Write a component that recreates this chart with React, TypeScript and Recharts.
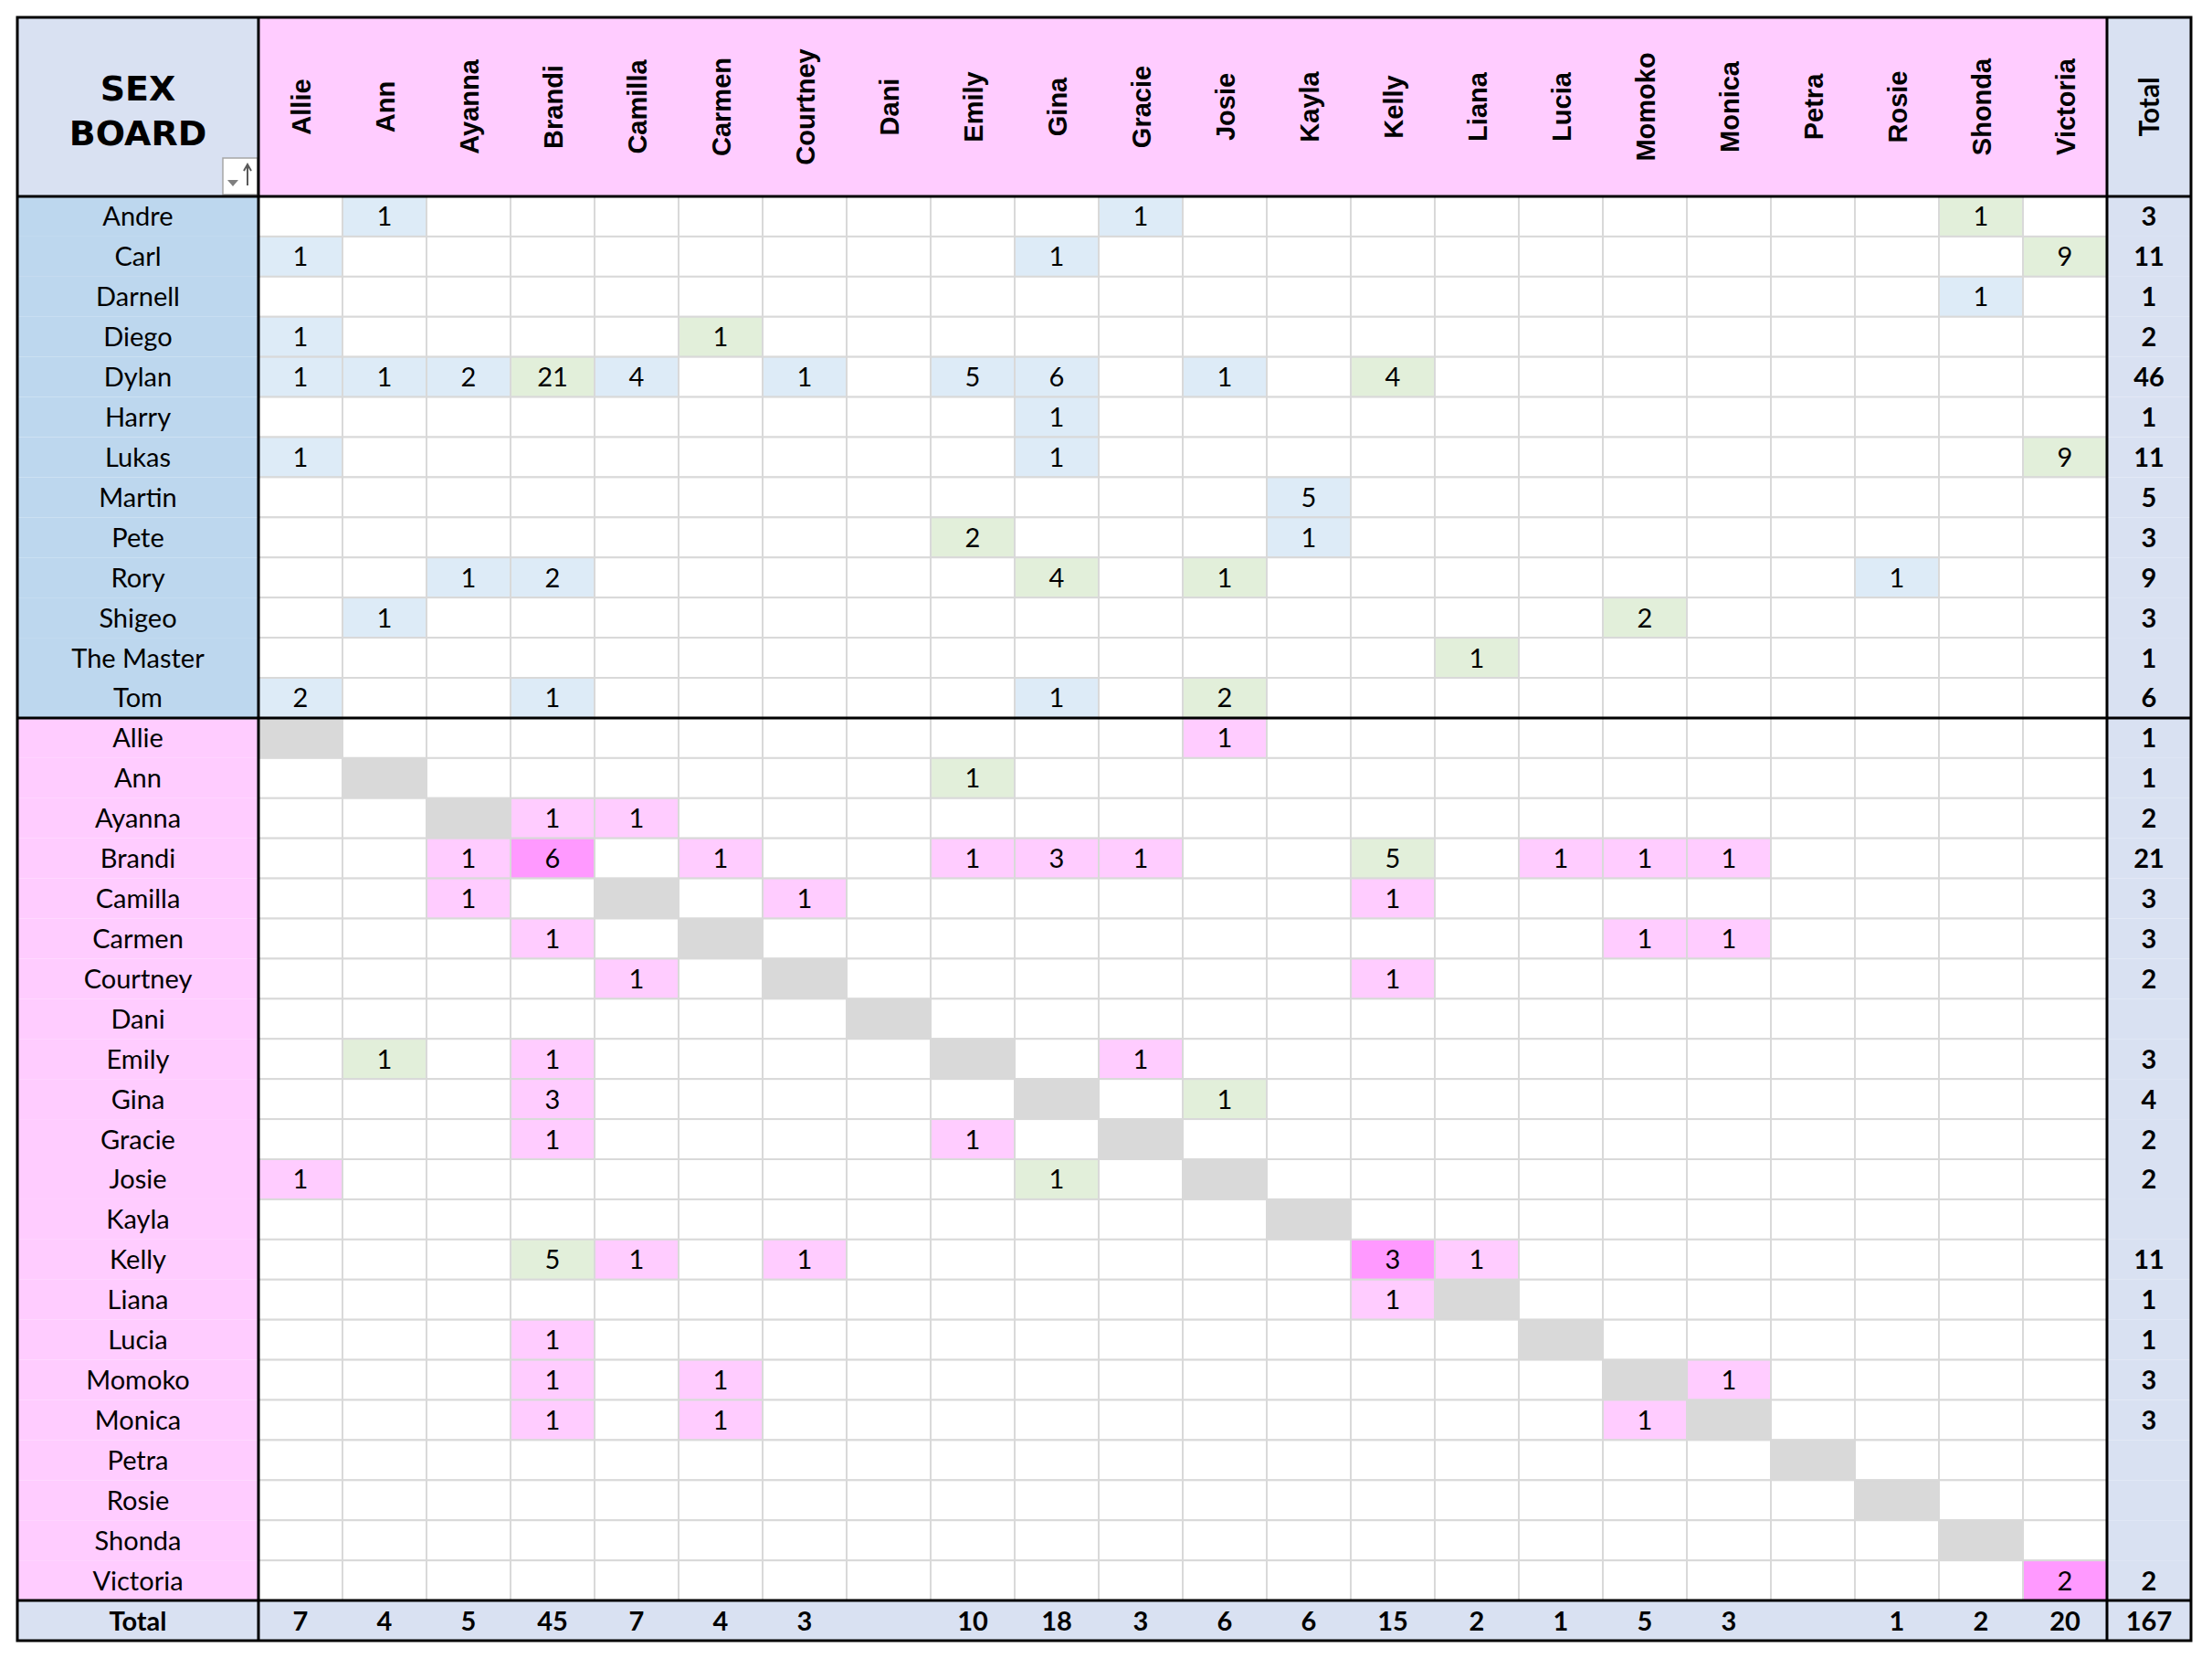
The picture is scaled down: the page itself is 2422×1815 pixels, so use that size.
import React from "react";
import { ScatterChart, Scatter, XAxis, YAxis, Customized } from "recharts";

// columns (women) and rows (men, then women)
const women = [
  "Allie", "Ann", "Ayanna", "Brandi", "Camilla", "Carmen", "Courtney", "Dani",
  "Emily", "Gina", "Gracie", "Josie", "Kayla", "Kelly", "Liana", "Lucia",
  "Momoko", "Monica", "Petra", "Rosie", "Shonda", "Victoria",
];
const men = [
  "Andre", "Carl", "Darnell", "Diego", "Dylan", "Harry", "Lukas", "Martin",
  "Pete", "Rory", "Shigeo", "The Master", "Tom",
];

// counts, one row per man (22 columns, 0 = blank)
const menCounts = [
  [0, 1, 0, 0, 0, 0, 0, 0, 0, 0, 1, 0, 0, 0, 0, 0, 0, 0, 0, 0, 1, 0], // Andre
  [1, 0, 0, 0, 0, 0, 0, 0, 0, 1, 0, 0, 0, 0, 0, 0, 0, 0, 0, 0, 0, 9], // Carl
  [0, 0, 0, 0, 0, 0, 0, 0, 0, 0, 0, 0, 0, 0, 0, 0, 0, 0, 0, 0, 1, 0], // Darnell
  [1, 0, 0, 0, 0, 1, 0, 0, 0, 0, 0, 0, 0, 0, 0, 0, 0, 0, 0, 0, 0, 0], // Diego
  [1, 1, 2, 21, 4, 0, 1, 0, 5, 6, 0, 1, 0, 4, 0, 0, 0, 0, 0, 0, 0, 0], // Dylan
  [0, 0, 0, 0, 0, 0, 0, 0, 0, 1, 0, 0, 0, 0, 0, 0, 0, 0, 0, 0, 0, 0], // Harry
  [1, 0, 0, 0, 0, 0, 0, 0, 0, 1, 0, 0, 0, 0, 0, 0, 0, 0, 0, 0, 0, 9], // Lukas
  [0, 0, 0, 0, 0, 0, 0, 0, 0, 0, 0, 0, 5, 0, 0, 0, 0, 0, 0, 0, 0, 0], // Martin
  [0, 0, 0, 0, 0, 0, 0, 0, 2, 0, 0, 0, 1, 0, 0, 0, 0, 0, 0, 0, 0, 0], // Pete
  [0, 0, 1, 2, 0, 0, 0, 0, 0, 4, 0, 1, 0, 0, 0, 0, 0, 0, 0, 1, 0, 0], // Rory
  [0, 1, 0, 0, 0, 0, 0, 0, 0, 0, 0, 0, 0, 0, 0, 0, 2, 0, 0, 0, 0, 0], // Shigeo
  [0, 0, 0, 0, 0, 0, 0, 0, 0, 0, 0, 0, 0, 0, 1, 0, 0, 0, 0, 0, 0, 0], // The Master
  [2, 0, 0, 1, 0, 0, 0, 0, 0, 1, 0, 2, 0, 0, 0, 0, 0, 0, 0, 0, 0, 0], // Tom
];

// counts, one row per woman
const womenCounts = [
  [0, 0, 0, 0, 0, 0, 0, 0, 0, 0, 0, 1, 0, 0, 0, 0, 0, 0, 0, 0, 0, 0], // Allie
  [0, 0, 0, 0, 0, 0, 0, 0, 1, 0, 0, 0, 0, 0, 0, 0, 0, 0, 0, 0, 0, 0], // Ann
  [0, 0, 0, 1, 1, 0, 0, 0, 0, 0, 0, 0, 0, 0, 0, 0, 0, 0, 0, 0, 0, 0], // Ayanna
  [0, 0, 1, 6, 0, 1, 0, 0, 1, 3, 1, 0, 0, 5, 0, 1, 1, 1, 0, 0, 0, 0], // Brandi
  [0, 0, 1, 0, 0, 0, 1, 0, 0, 0, 0, 0, 0, 1, 0, 0, 0, 0, 0, 0, 0, 0], // Camilla
  [0, 0, 0, 1, 0, 0, 0, 0, 0, 0, 0, 0, 0, 0, 0, 0, 1, 1, 0, 0, 0, 0], // Carmen
  [0, 0, 0, 0, 1, 0, 0, 0, 0, 0, 0, 0, 0, 1, 0, 0, 0, 0, 0, 0, 0, 0], // Courtney
  [0, 0, 0, 0, 0, 0, 0, 0, 0, 0, 0, 0, 0, 0, 0, 0, 0, 0, 0, 0, 0, 0], // Dani
  [0, 1, 0, 1, 0, 0, 0, 0, 0, 0, 1, 0, 0, 0, 0, 0, 0, 0, 0, 0, 0, 0], // Emily
  [0, 0, 0, 3, 0, 0, 0, 0, 0, 0, 0, 1, 0, 0, 0, 0, 0, 0, 0, 0, 0, 0], // Gina
  [0, 0, 0, 1, 0, 0, 0, 0, 1, 0, 0, 0, 0, 0, 0, 0, 0, 0, 0, 0, 0, 0], // Gracie
  [1, 0, 0, 0, 0, 0, 0, 0, 0, 1, 0, 0, 0, 0, 0, 0, 0, 0, 0, 0, 0, 0], // Josie
  [0, 0, 0, 0, 0, 0, 0, 0, 0, 0, 0, 0, 0, 0, 0, 0, 0, 0, 0, 0, 0, 0], // Kayla
  [0, 0, 0, 5, 1, 0, 1, 0, 0, 0, 0, 0, 0, 3, 1, 0, 0, 0, 0, 0, 0, 0], // Kelly
  [0, 0, 0, 0, 0, 0, 0, 0, 0, 0, 0, 0, 0, 1, 0, 0, 0, 0, 0, 0, 0, 0], // Liana
  [0, 0, 0, 1, 0, 0, 0, 0, 0, 0, 0, 0, 0, 0, 0, 0, 0, 0, 0, 0, 0, 0], // Lucia
  [0, 0, 0, 1, 0, 1, 0, 0, 0, 0, 0, 0, 0, 0, 0, 0, 0, 1, 0, 0, 0, 0], // Momoko
  [0, 0, 0, 1, 0, 1, 0, 0, 0, 0, 0, 0, 0, 0, 0, 0, 1, 0, 0, 0, 0, 0], // Monica
  [0, 0, 0, 0, 0, 0, 0, 0, 0, 0, 0, 0, 0, 0, 0, 0, 0, 0, 0, 0, 0, 0], // Petra
  [0, 0, 0, 0, 0, 0, 0, 0, 0, 0, 0, 0, 0, 0, 0, 0, 0, 0, 0, 0, 0, 0], // Rosie
  [0, 0, 0, 0, 0, 0, 0, 0, 0, 0, 0, 0, 0, 0, 0, 0, 0, 0, 0, 0, 0, 0], // Shonda
  [0, 0, 0, 0, 0, 0, 0, 0, 0, 0, 0, 0, 0, 0, 0, 0, 0, 0, 0, 0, 0, 2], // Victoria
];

// pairs shaded green instead of the section default
const greenPairs = [
  ["Andre", "Shonda"], ["Carl", "Victoria"], ["Diego", "Carmen"], ["Dylan", "Brandi"],
  ["Dylan", "Kelly"], ["Lukas", "Victoria"], ["Pete", "Emily"], ["Rory", "Gina"],
  ["Rory", "Josie"], ["Shigeo", "Momoko"], ["The Master", "Liana"], ["Tom", "Josie"],
  ["Ann", "Emily"], ["Brandi", "Kelly"], ["Emily", "Ann"], ["Gina", "Josie"],
  ["Josie", "Gina"], ["Kelly", "Brandi"],
];

const menTotals = [3, 11, 1, 2, 46, 1, 11, 5, 3, 9, 3, 1, 6];
const womenTotals = [1, 1, 2, 21, 3, 3, 2, null, 3, 4, 2, 2, null, 11, 1, 1, 3, 3, null, null, null, 2];
const columnTotals = [7, 4, 5, 45, 7, 4, 3, null, 10, 18, 3, 6, 6, 15, 2, 1, 5, 3, null, 1, 2, 20];
const grandTotal = 167;

const W = 2400;
const H = 1800;
const MARGIN = { top: 11, right: 9, bottom: 12, left: 11 };
const LABEL_W = 264;
const HEAD_H = 196;
const PLOT_L = MARGIN.left + LABEL_W;
const PLOT_R = W - MARGIN.right;
const PLOT_T = MARGIN.top + HEAD_H;
const PLOT_B = H - MARGIN.bottom;
const columns = [...women, "Total"];
const rowNames = [...men, ...women, "Total"];
const COL_W = (PLOT_R - PLOT_L) / columns.length;
const ROW_H = (PLOT_B - PLOT_T) / rowNames.length;

const PINK = "#FFCCFF";
const HOT_PINK = "#FF99FF";
const BLUE_LABEL = "#BDD7EE";
const BLUE = "#DDEBF7";
const GREEN = "#E2EFDA";
const LAVENDER = "#D9E1F2";
const GREY = "#D9D9D9";
const CALIBRI = "Lato, 'Noto Sans', sans-serif";
const ARIAL = "'Liberation Sans', Arial, sans-serif";

const isGreen = (r: string, c: string) => greenPairs.some(([a, b]) => a === r && b === c);

type Cell = { x: number; y: number; value: number | null; fill: string; bold: boolean; grid: boolean };

const cells: Cell[] = [];
rowNames.forEach((rname, r) => {
  columns.forEach((cname, c) => {
    let value: number | null = null;
    let fill = "#FFFFFF";
    let bold = false;
    let grid = true;
    const isMan = r < men.length;
    const isTotalRow = r === rowNames.length - 1;
    const isTotalCol = c === columns.length - 1;
    if (isTotalRow || isTotalCol) {
      fill = LAVENDER;
      bold = true;
      grid = false;
      if (isTotalRow && isTotalCol) value = grandTotal;
      else if (isTotalRow) value = columnTotals[c];
      else value = isMan ? menTotals[r] : womenTotals[r - men.length];
    } else {
      const v = isMan ? menCounts[r][c] : womenCounts[r - men.length][c];
      value = v > 0 ? v : null;
      if (!isMan && rname === cname) fill = value ? HOT_PINK : GREY;
      else if (value) fill = isGreen(rname, cname) ? GREEN : isMan ? BLUE : PINK;
    }
    cells.push({ x: c + 0.5, y: r + 0.5, value, fill, bold, grid });
  });
});

const colTicks = columns.map((_, i) => i + 0.5);
const rowTicks = rowNames.map((_, i) => i + 0.5);

const CellShape = (props: any) => {
  const { cx, cy, payload } = props;
  const p: Cell = payload;
  return (
    <g>
      <rect
        x={cx - COL_W / 2}
        y={cy - ROW_H / 2}
        width={COL_W}
        height={ROW_H}
        fill={p.fill}
        stroke={p.grid ? GREY : "none"}
        strokeWidth={2}
      />
      {p.value != null && (
        <text
          x={cx}
          y={cy + 10.5}
          textAnchor="middle"
          fontFamily={CALIBRI}
          fontSize={29}
          fontWeight={p.bold ? 700 : 400}
          fill="#000"
        >
          {p.value}
        </text>
      )}
    </g>
  );
};

const HeaderTick = (props: any) => {
  const { x, payload } = props;
  const i = Math.floor(payload.value);
  const name = columns[i];
  const total = i === columns.length - 1;
  const cy = MARGIN.top + 98;
  return (
    <g>
      <rect x={x - COL_W / 2} y={MARGIN.top} width={COL_W} height={HEAD_H} fill={total ? LAVENDER : PINK} />
      <text
        transform={`translate(${x + 10.5},${cy}) rotate(-90)`}
        textAnchor="middle"
        fontFamily={total ? CALIBRI : ARIAL}
        fontSize={total ? 30 : 29}
        fontWeight={700}
        fill="#000"
      >
        {name}
      </text>
    </g>
  );
};

const RowTick = (props: any) => {
  const { y, payload } = props;
  const i = Math.floor(payload.value);
  const total = i === rowNames.length - 1;
  const fill = total ? LAVENDER : i < men.length ? BLUE_LABEL : PINK;
  return (
    <g>
      <rect x={MARGIN.left} y={y - ROW_H / 2} width={LABEL_W} height={ROW_H} fill={fill} />
      <text
        x={MARGIN.left + LABEL_W / 2}
        y={y + 10.5}
        textAnchor="middle"
        fontFamily={CALIBRI}
        fontSize={29}
        fontWeight={total ? 700 : 400}
        fill="#000"
      >
        {rowNames[i]}
      </text>
    </g>
  );
};

// corner cell with the title and the sort button
const Corner = () => {
  const cx = MARGIN.left + LABEL_W / 2;
  const font = "'Comic Sans MS', 'DejaVu Sans', sans-serif";
  return (
    <g>
      <rect x={MARGIN.left} y={MARGIN.top} width={LABEL_W} height={HEAD_H} fill={LAVENDER} />
      <text x={cx} y={102} textAnchor="middle" fontFamily={font} fontWeight={700} fontSize={38} fill="#000">
        SEX
      </text>
      <text x={cx} y={151} textAnchor="middle" fontFamily={font} fontWeight={700} fontSize={38} fill="#000">
        BOARD
      </text>
      <rect x={236} y={165} width={38} height={40} fill="#FFFFFF" stroke="#A6A6A6" strokeWidth={1.5} />
      <path d="M241 189 L253 189 L247 196 Z" fill="#7F7F7F" />
      <line x1={263} y1={174} x2={263} y2={195} stroke="#595959" strokeWidth={2} />
      <path d="M259 179 L263 172 L267 179" fill="none" stroke="#595959" strokeWidth={2} />
    </g>
  );
};

// thick black section borders, laid over the chart
const Borders = () => {
  const menBottom = PLOT_T + men.length * ROW_H;
  const totalTop = PLOT_T + (rowNames.length - 1) * ROW_H;
  const totalLeft = PLOT_L + (columns.length - 1) * COL_W;
  return (
    <svg width={W} height={H} style={{ position: "absolute", left: 0, top: 0, pointerEvents: "none" }}>
      <g stroke="#000" strokeWidth={3} fill="none">
        <rect x={MARGIN.left} y={MARGIN.top} width={PLOT_R - MARGIN.left} height={PLOT_B - MARGIN.top} />
        <line x1={PLOT_L} y1={MARGIN.top} x2={PLOT_L} y2={PLOT_B} />
        <line x1={totalLeft} y1={MARGIN.top} x2={totalLeft} y2={PLOT_B} />
        <line x1={MARGIN.left} y1={PLOT_T} x2={PLOT_R} y2={PLOT_T} />
        <line x1={MARGIN.left} y1={menBottom} x2={PLOT_R} y2={menBottom} />
        <line x1={MARGIN.left} y1={totalTop} x2={PLOT_R} y2={totalTop} />
      </g>
    </svg>
  );
};

export default function App() {
  return (
    <div style={{ position: "relative", width: W, height: H }}>
      <ScatterChart width={W} height={H} margin={MARGIN}>
        <XAxis
          type="number"
          dataKey="x"
          orientation="top"
          domain={[0, columns.length]}
          ticks={colTicks}
          interval={0}
          height={HEAD_H}
          tick={<HeaderTick />}
          tickLine={false}
          axisLine={false}
          allowDataOverflow
        />
        <YAxis
          type="number"
          dataKey="y"
          domain={[0, rowNames.length]}
          reversed
          ticks={rowTicks}
          interval={0}
          width={LABEL_W}
          tick={<RowTick />}
          tickLine={false}
          axisLine={false}
          allowDataOverflow
        />
        <Customized component={Corner} />
        <Scatter data={cells} shape={<CellShape />} isAnimationActive={false} />
      </ScatterChart>
      <Borders />
    </div>
  );
}
